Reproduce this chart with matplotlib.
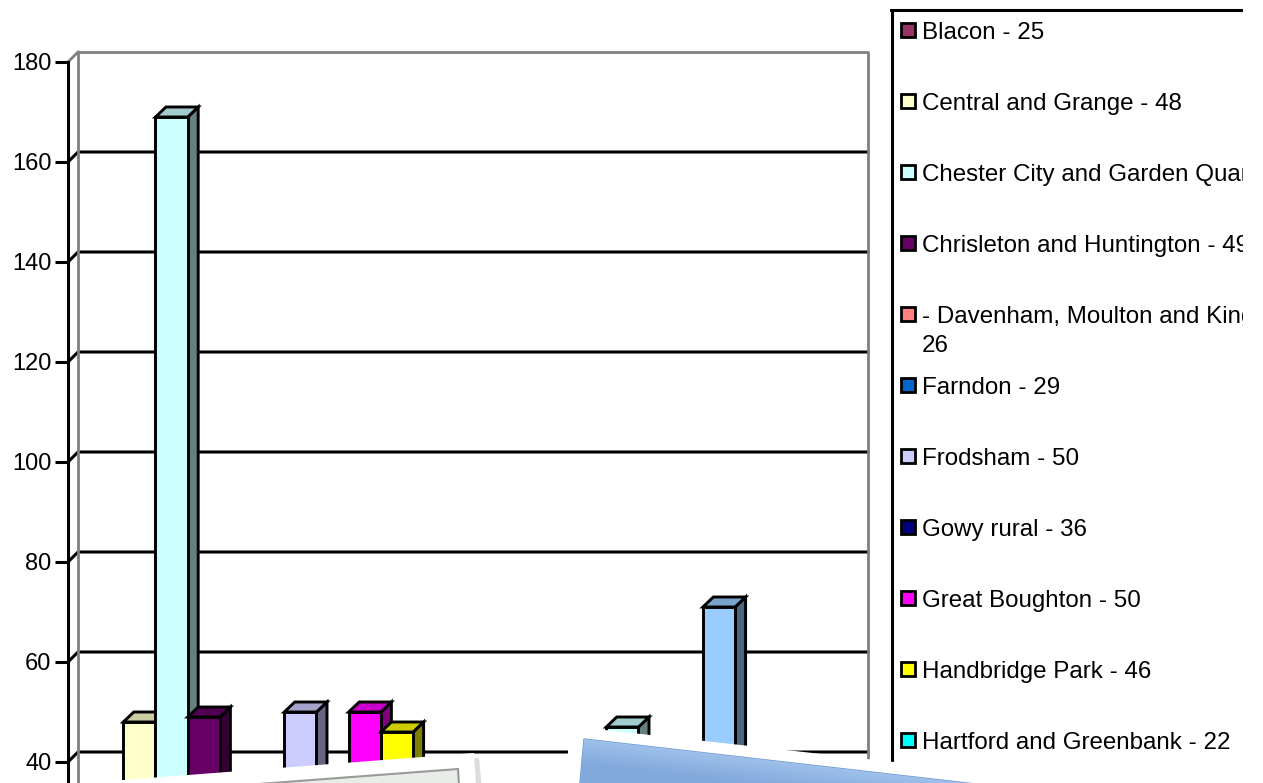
import numpy as np
import matplotlib.pyplot as plt
from matplotlib.patches import Polygon, Rectangle
from matplotlib.colors import to_rgb

plt.rcParams['font.family'] = ['Liberation Sans', 'DejaVu Sans']

# series (wards) in chart order, one bar each
values = [25, 48, 169, 49, 26, 29, 50, 36, 50, 46, 22,
          33, 31, 28, 32, 30, 47, 27, 32, 71, 33, 29, 31]
colors = ['#993366', '#FFFFCC', '#CCFFFF', '#660066', '#FF8080', '#0066CC',
          '#CCCCFF', '#000080', '#FF00FF', '#FFFF00', '#00FFFF', '#800080',
          '#800000', '#008080', '#0000FF', '#00CCFF', '#CCFFFF', '#CCFFCC',
          '#FFFF99', '#99CCFF', '#FF99CC', '#CC99FF', '#FFCC99']
# legend entries that show in the picture
legend_labels = ['Blacon - 25', 'Central and Grange - 48',
                 'Chester City and Garden Quarter - 169',
                 'Chrisleton and Huntington - 49',
                 '- Davenham, Moulton and Kingsmead -\n26',
                 'Farndon - 29', 'Frodsham - 50', 'Gowy rural - 36',
                 'Great Boughton - 50', 'Handbridge Park - 46',
                 'Hartford and Greenbank - 22']
yticks = [0, 20, 40, 60, 80, 100, 120, 140, 160, 180]

W, H = 1263, 783
fig = plt.figure(figsize=(W / 100, H / 100), dpi=100)


def shade(c, f):
    r, g, b = to_rgb(c)
    return (r * f, g * f, b * f)


# main chart axes, placed in pixel terms (front plane)
ax = fig.add_axes([68 / W, (H - 812) / H, 790 / W, (812 - 62) / H])
ax.patch.set_visible(False)
for s in ['top', 'right', 'bottom']:
    ax.spines[s].set_visible(False)
ax.spines['left'].set_linewidth(2.2)
ax.set_xticks([])
ax.set_yticks(yticks)
ax.tick_params(axis='y', length=9.4, width=2.2, pad=2.5, labelsize=17)
ax.set_xlim(-0.7174, 23.817)
ax.set_ylim(30, 180)

xmin, xmax = ax.get_xlim()
wdx, wdy = 10 / 32.2, 2.0       # depth of back wall
bdx, bdy = 10.5 / 32.2, 2.0     # depth of bars

# back wall gridlines
for v in yticks[1:-1]:
    ax.plot([xmin, xmin + wdx, xmax + wdx], [v, v + wdy, v + wdy],
            color='black', lw=2.2, zorder=1, clip_on=False)
# back wall edges
ax.plot([xmin, xmin + wdx], [180, 180 + wdy], color='#808080', lw=2, clip_on=False, zorder=1)
ax.plot([xmin + wdx, xmin + wdx], [0, 180 + wdy], color='#808080', lw=2, clip_on=False, zorder=1)
ax.plot([xmin + wdx, xmax + wdx, xmax + wdx], [180 + wdy, 180 + wdy, 0],
        color='#808080', lw=2, clip_on=False, zorder=1)

idx = np.arange(len(values))
bars = ax.bar(idx, values, width=1, align='edge', color=colors,
              edgecolor='black', lw=2.1)
for i, (b, v, c) in enumerate(zip(bars, values, colors)):
    z = 3 + i * 0.01
    b.set_zorder(z + 0.005)
    b.set_joinstyle('miter')
    top = Polygon([(i, v), (i + 1, v), (i + 1 + bdx, v + bdy), (i + bdx, v + bdy)],
                  closed=True, fc=shade(c, 0.8), ec='black', lw=2.1, zorder=z,
                  joinstyle='miter')
    side = Polygon([(i + 1, 0), (i + 1, v), (i + 1 + bdx, v + bdy), (i + 1 + bdx, bdy)],
                   closed=True, fc=shade(c, 0.5), ec='black', lw=2.1, zorder=z,
                   joinstyle='miter')
    ax.add_patch(side)
    ax.add_patch(top)
ax.set_xlim(xmin, xmax)
ax.set_ylim(30, 180)

# overlay in pixel coords: legend and the shapes pasted over the chart
ov = fig.add_axes([0, 0, 1, 1], zorder=5)
ov.axis('off')

ov.plot([892, 892], [10, 800], color='black', lw=2.2, zorder=2, solid_capstyle='butt')
ov.plot([891, 1263], [10, 10], color='black', lw=2.2, zorder=2)
for k, (lab, c) in enumerate(zip(legend_labels, colors)):
    base = 39 + 71 * k
    ov.add_patch(Rectangle((900.5, base - 16.5), 14, 14, fc=c, ec='black', lw=2, zorder=3))
    for j, line in enumerate(lab.split('\n')):
        ov.text(922, base + 29 * j, line, fontsize=17.35, va='baseline', ha='left', zorder=3)

# legend is cut at the right
ov.add_patch(Rectangle((1243, -5), 40, 800, fc='white', ec='none', zorder=10))

# white photo frame at bottom left
ov.add_patch(Polygon([(-20, 796), (479, 758), (483, 800), (-20, 800)],
                     fc='#DCDCDC', ec='none', zorder=20))
ov.add_patch(Polygon([(-20, 791), (474, 753), (477, 800), (-20, 800)],
                     fc='white', ec='none', zorder=21))
ov.add_patch(Polygon([(-20, 805), (458, 769), (460, 800)],
                     fc='#E8EDE8', ec='#9A9A9A', lw=1.5, zorder=22))

# blue box with white border at bottom right
ov.add_patch(Polygon([(569, 726), (1300, 807), (1300, 850), (564, 850)],
                     fc='white', ec='none', zorder=23))
blue = Polygon([(584, 739), (1300, 821.3), (1300, 850), (574, 850)],
               fc='#86ADDD', ec='#7099CF', lw=1, zorder=24)
ov.add_patch(blue)
gx, gy = np.meshgrid(np.arange(560, 1000), np.arange(730, 790))
d = ((gy - 739) - 0.115 * (gx - 584)) / np.sqrt(1 + 0.115 ** 2)
t = np.clip(d / 25, 0, 1)[..., None]
light, dark = np.array(to_rgb('#9EC0EA')), np.array(to_rgb('#82A9DC'))
img = light * (1 - t) + dark * t
im = ov.imshow(img, extent=(560, 1000, 790, 730), origin='upper', aspect='auto', zorder=25)
im.set_clip_path(blue)

ov.set_xlim(0, W)
ov.set_ylim(H, 0)

plt.savefig('out.png', dpi=100)
